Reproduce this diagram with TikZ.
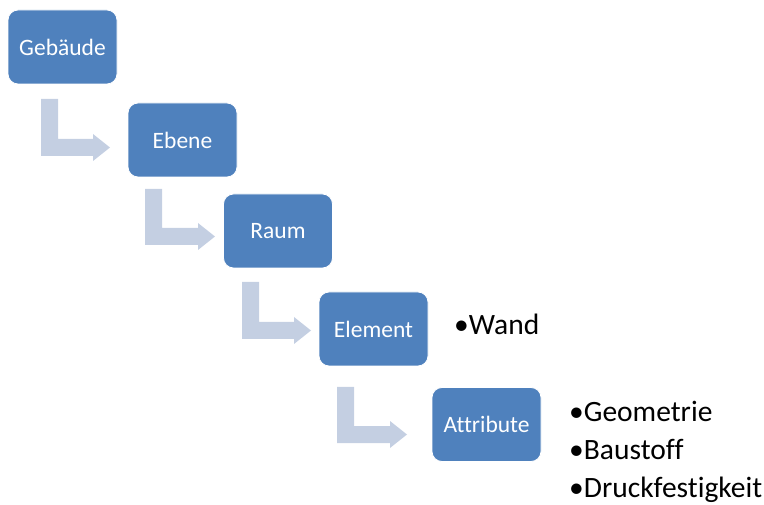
\documentclass[tikz,border=0pt]{standalone}
\usepackage{fontspec}
\setmainfont{Carlito}[Ligatures={NoCommon,NoRare,NoContextual}]
\definecolor{boxblue}{RGB}{79,129,189}
\definecolor{arrowc}{RGB}{196,207,226}
\newcommand{\bentarr}[4]{%
  \fill[arrowc] (#1,#2) -- (#1+17,#2) -- (#1+17,#3) -- (#4-17,#3) -- (#4-17,#3-5)
    -- (#4,#3+8.5) -- (#4-17,#3+22) -- (#4-17,#3+17) -- (#1,#3+17) -- cycle;}
\tikzset{
  stepbox/.style={rounded corners=10pt, fill=boxblue, draw=white, line width=0.8pt,
    minimum width=109pt, minimum height=74pt, inner sep=0pt, text=white,
    font=\fontsize{23.5}{28}\selectfont},
  bullettext/.style={anchor=base west, inner sep=0pt, text=black,
    font=\fontsize{29.5}{34}\selectfont}
}
\begin{document}
\begin{tikzpicture}[x=1pt,y=-1pt]
\useasboundingbox (0,0) rectangle (764,505);
\bentarr{41}{99}{139}{110}
\bentarr{145}{189}{228}{215}
\bentarr{242}{282}{322}{311}
\bentarr{337}{387}{426}{407}
\node[stepbox] (g) at (62.5,47) {Gebäude};
\node[stepbox] (e) at (182.5,140) {Ebene};
\node[stepbox] (r) at (278,231) {Raum};
\node[stepbox] (el) at (373.5,329) {Element};
\node[stepbox] (a) at (486.5,424.5) {Attribute};
\node[bullettext] (w) at (454,335) {•Wand};
\node[bullettext] (b1) at (569,421) {•Geometrie};
\node[bullettext] (b2) at (569,459) {•Baustoff};
\node[bullettext] (b3) at (569,497) {•Druckfestigkeit};
\end{tikzpicture}
\end{document}
